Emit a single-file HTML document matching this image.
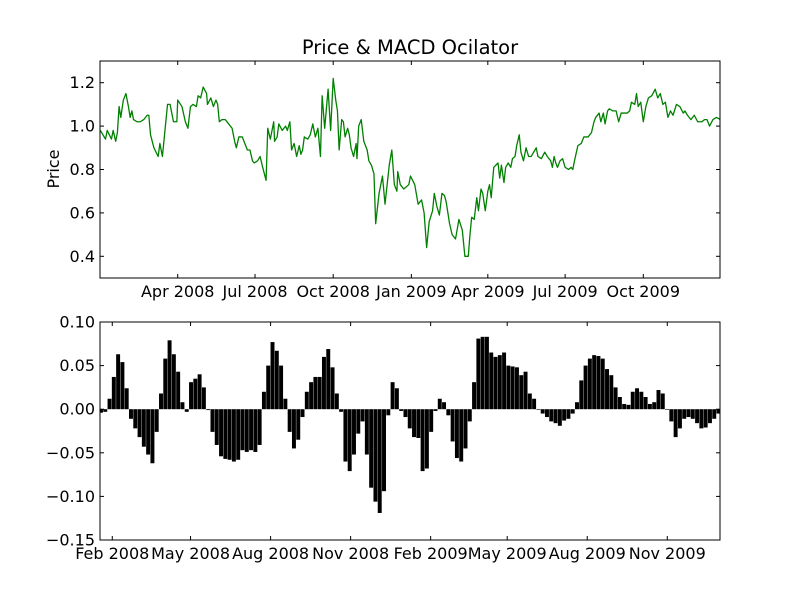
<!DOCTYPE html>
<html><head><meta charset="utf-8"><style>
html,body{margin:0;padding:0;background:#fff;}
svg{display:block;font-family:"DejaVu Sans","Liberation Sans",sans-serif;}
</style></head><body>
<svg id="fig" width="800" height="600" viewBox="0 0 800 600" xmlns="http://www.w3.org/2000/svg">
<rect x="0" y="0" width="800" height="600" fill="#fff"/>
<text x="410" y="54" text-anchor="middle" font-size="19.5" fill="#000">Price &amp; MACD Ocilator</text>
<g id="topPanel"></g>
<g id="botPanel"></g>
</svg>
<script>
// Price series: day offset from 2008-01-01 and price value
const priceDays = [0,6,8,13,15,18,20,22,24,27,30,33,35,37,39,43,47,51,55,57,59,63,68,70,73,77,79,82,86,90,91,96,100,103,106,109,113,115,118,121,125,126,130,133,136,138,140,143,147,151,155,158,160,163,167,170,173,176,179,181,185,188,191,195,197,200,204,205,208,210,214,218,220,223,225,228,231,234,236,238,240,244,247,250,253,256,259,261,264,268,271,274,277,279,281,284,286,288,291,293,295,298,301,302,304,307,310,314,316,319,322,324,328,332,335,340,343,346,349,350,353,357,363,365,370,374,378,381,384,387,391,393,396,399,402,405,407,411,414,418,422,426,429,433,435,437,440,443,445,448,450,453,456,458,460,463,468,470,472,475,477,480,483,485,488,490,493,495,498,501,504,507,510,513,515,519,523,526,530,532,534,536,538,541,544,547,551,554,556,558,562,566,569,574,578,581,583,587,589,592,594,597,599,603,607,610,613,616,620,623,625,629,631,633,636,639,642,645,649,653,656,659,662,665,668,671,674,678,682,686,688,691,695,699,703,708,711,714,717,721,725,730];
const priceValues = [0.98,0.94,0.98,0.94,0.98,0.93,0.97,1.09,1.04,1.12,1.15,1.09,1.04,1.07,1.03,1.02,1.02,1.03,1.05,1.05,0.96,0.90,0.86,0.92,0.86,1.02,1.10,1.10,1.02,1.02,1.12,1.09,1.02,0.99,1.09,1.10,1.09,1.14,1.13,1.18,1.15,1.10,1.13,1.09,1.12,1.10,1.02,1.03,1.03,1.01,0.99,0.93,0.90,0.95,0.95,0.92,0.89,0.89,0.84,0.83,0.84,0.86,0.81,0.75,0.99,0.94,1.02,0.93,0.95,1.01,0.98,1.00,0.98,1.02,0.89,0.92,0.86,0.91,0.87,0.89,0.95,0.94,0.96,1.01,0.95,0.99,0.86,1.14,0.99,1.17,0.98,1.22,1.12,1.07,0.89,1.03,1.02,0.95,0.99,0.96,0.90,0.86,0.92,0.85,1.00,1.03,0.93,0.89,0.84,0.82,0.78,0.55,0.69,0.77,0.64,0.82,0.89,0.73,0.70,0.79,0.73,0.71,0.73,0.77,0.73,0.64,0.66,0.60,0.44,0.56,0.61,0.69,0.63,0.59,0.69,0.68,0.65,0.55,0.50,0.48,0.57,0.52,0.40,0.40,0.50,0.58,0.57,0.67,0.61,0.71,0.69,0.61,0.70,0.73,0.67,0.81,0.83,0.76,0.82,0.74,0.81,0.83,0.81,0.85,0.86,0.91,0.96,0.88,0.84,0.90,0.86,0.86,0.88,0.90,0.86,0.85,0.88,0.86,0.84,0.81,0.86,0.83,0.81,0.84,0.85,0.81,0.80,0.81,0.80,0.84,0.91,0.92,0.95,0.95,0.97,1.02,1.04,1.06,1.02,1.06,1.01,1.07,1.08,1.07,1.07,1.02,1.06,1.06,1.06,1.07,1.11,1.10,1.15,1.09,1.11,1.02,1.09,1.13,1.14,1.17,1.13,1.15,1.10,1.11,1.04,1.07,1.05,1.10,1.09,1.06,1.07,1.05,1.03,1.05,1.02,1.02,1.03,1.03,1.00,1.03,1.04,1.03];
const priceTicks = [0.4,0.6,0.8,1.0,1.2];
const priceTickLabels = ["0.4","0.6","0.8","1.0","1.2"];
const topDateDays = [91,182,274,366,456,547,639];
const topDateLabels = ["Apr 2008","Jul 2008","Oct 2008","Jan 2009","Apr 2009","Jul 2009","Oct 2009"];
// MACD oscillator values (every ~5 days starting day 18)
const macdValues = [-0.004,-0.003,0.012,0.037,0.063,0.054,0.024,-0.011,-0.022,-0.032,-0.043,-0.052,-0.062,-0.026,0.018,0.058,0.079,0.063,0.043,0.008,-0.003,0.031,0.035,0.040,0.025,-0.001,-0.026,-0.041,-0.054,-0.057,-0.058,-0.060,-0.058,-0.047,-0.049,-0.047,-0.049,-0.041,
0.020,0.050,0.077,0.067,0.050,0.012,-0.026,-0.045,-0.035,-0.009,0.020,0.031,0.037,0.037,0.060,0.069,0.048,0.018,-0.003,-0.060,-0.071,-0.052,-0.028,-0.014,-0.052,-0.090,-0.106,-0.119,-0.094,-0.007,0.031,0.024,-0.002,-0.009,-0.022,-0.032,
-0.033,-0.071,-0.068,-0.026,-0.002,0.012,0.008,-0.007,-0.037,-0.056,-0.060,-0.045,-0.014,0.031,0.081,0.083,0.083,0.065,0.060,0.062,0.065,0.050,0.049,0.048,0.039,0.043,0.018,0.012,0.000,-0.005,-0.009,-0.014,-0.016,-0.019,-0.013,-0.011,
-0.005,0.008,0.033,0.050,0.058,0.062,0.061,0.058,0.046,0.039,0.025,0.014,0.006,0.005,0.020,0.024,0.020,0.014,0.006,0.008,0.022,0.018,0.000,-0.014,-0.032,-0.022,-0.011,-0.009,-0.011,-0.016,-0.022,-0.021,-0.016,-0.011,-0.005];
const macdStartDay = 18;
const macdStepDays = 4.93;
const macdTicks = [-0.15,-0.10,-0.05,0.00,0.05,0.10];
const macdTickLabels = ["\u22120.15","\u22120.10","\u22120.05","0.00","0.05","0.10"];
const botDateDays = [31,121,213,305,397,485,577,669];
const botDateLabels = ["Feb 2008","May 2008","Aug 2008","Nov 2008","Feb 2009","May 2009","Aug 2009","Nov 2009"];

const NS = "http://www.w3.org/2000/svg";
function mk(tag, attrs, parent){const e=document.createElementNS(NS,tag);for(const k in attrs)e.setAttribute(k,attrs[k]);parent.appendChild(e);return e;}

const L=100,R=720,T1=61,B1=278,T2=322,B2=540;
const xTop = d => 100.4 + d*0.8496;
const yTop = v => B1 - (v-0.3)/(1.0)*(B1-T1);
const xBot = d => 85.3 + d*0.8699;
const yBot = v => B2 - (v+0.15)/0.25*(B2-T2);

const topG = document.getElementById('topPanel');
const botG = document.getElementById('botPanel');

// price line
let dstr = priceDays.map((d,i)=>(i?'L':'M')+xTop(d).toFixed(2)+' '+yTop(priceValues[i]).toFixed(2)).join(' ');
const cp = mk('clipPath',{id:'c1'},topG); mk('rect',{x:L,y:T1,width:R-L,height:B1-T1},cp);
const line = mk('path',{d:dstr,fill:'none',stroke:'#008000','stroke-width':1.3,'stroke-linejoin':'round','clip-path':'url(#c1)'},topG);



// MACD bars
const cp2 = mk('clipPath',{id:'c2'},botG); mk('rect',{x:L,y:T2,width:R-L,height:B2-T2},cp2);
const barsG = mk('g',{'clip-path':'url(#c2)'},botG);
const bw = macdStepDays*0.8699*0.92;
macdValues.forEach((v,i)=>{
  const cx = xBot(macdStartDay + i*macdStepDays);
  const y0 = yBot(0), y1 = yBot(v);
  const r = mk('rect',{x:(cx-bw/2).toFixed(2),y:Math.min(y0,y1).toFixed(2),width:bw.toFixed(2),height:Math.max(0.6,Math.abs(y1-y0)).toFixed(2),fill:'#000'},barsG);
  
  
});

function frame(g,t,b,name){
  const f = mk('rect',{x:L,y:t,width:R-L,height:b-t,fill:'none',stroke:'#000','stroke-width':1},g);
  
  
}
frame(topG,T1,B1,'price-axes-frame');
frame(botG,T2,B2,'macd-axes-frame');

function yaxis(g,ticks,labels,yf,name){
  ticks.forEach((v,i)=>{
    const y=yf(v);
    mk('line',{x1:L,x2:L+4,y1:y,y2:y,stroke:'#000'},g);
    mk('line',{x1:R-4,x2:R,y1:y,y2:y,stroke:'#000'},g);
    const t=mk('text',{x:95,y:y+5.5,'text-anchor':'end','font-size':16,fill:'#000'},g);
    t.textContent=labels[i];
    
    
  });
}
function xaxis(g,days,labels,xf,t,b,name){
  days.forEach((d,i)=>{
    const x=xf(d);
    mk('line',{x1:x,x2:x,y1:b,y2:b-4,stroke:'#000'},g);
    mk('line',{x1:x,x2:x,y1:t,y2:t+4,stroke:'#000'},g);
    const tx=mk('text',{x:x,y:b+19,'text-anchor':'middle','font-size':16,fill:'#000'},g);
    tx.textContent=labels[i];
    
    
  });
}
yaxis(topG,priceTicks,priceTickLabels,yTop,'price-y-tick-label');
yaxis(botG,macdTicks,macdTickLabels,yBot,'macd-y-tick-label');
xaxis(topG,topDateDays,topDateLabels,xTop,T1,B1,'price-x-tick-label');
xaxis(botG,botDateDays,botDateLabels,xBot,T2,B2,'macd-x-tick-label');

const yl = mk('text',{x:0,y:0,'text-anchor':'middle','font-size':16,fill:'#000',transform:'translate(59,169) rotate(-90)'},topG);
yl.textContent='Price';


</script>
</body></html>
